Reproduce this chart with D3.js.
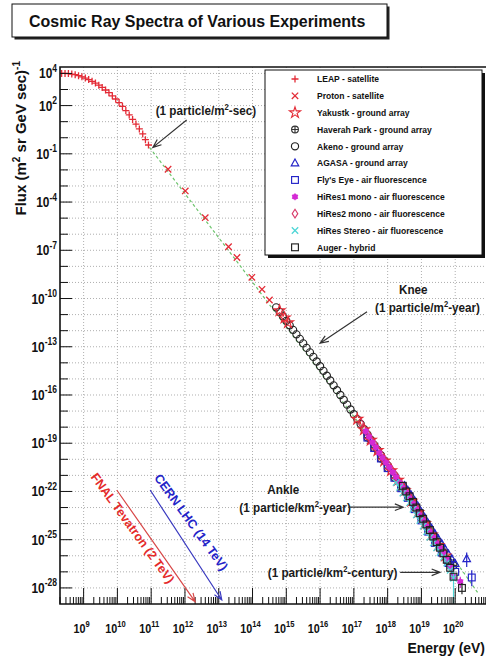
<!DOCTYPE html>
<html>
<head>
<meta charset="utf-8">
<script src="https://cdn.jsdelivr.net/npm/d3@7"></script>
<style>
  body { margin: 0; background: #fff; }
  svg { display: block; font-family: "Liberation Sans", Arial, Helvetica, sans-serif; font-weight: bold; }
</style>
</head>
<body>
<script>
// all points are [log10 E (eV), log10 flux]
const leap = [[8.35,4.00],[8.45,4.00],[8.55,3.99],[8.65,3.96],[8.75,3.92],[8.85,3.86],[8.95,3.79],[9.05,3.71],
  [9.15,3.62],[9.25,3.51],[9.35,3.40],[9.45,3.27],[9.55,3.13],[9.65,2.97],[9.75,2.80],[9.85,2.61],[9.95,2.41],
  [10.05,2.19],[10.15,1.95],[10.25,1.69],[10.35,1.42],[10.45,1.14],[10.55,0.85],[10.65,0.55],[10.75,0.24],
  [10.83,-0.12],[10.92,-0.45]];
const proton = [[11.50,-1.96],[12.01,-3.31],[12.60,-4.97],[13.29,-6.78],[13.54,-7.45],[13.98,-8.68],[14.28,-9.43],[14.50,-10.09]];
const yakutsk = [[14.80,-10.75],[14.95,-11.2],[15.05,-11.5],[17.1,-17.5],[17.3,-18.15],[17.5,-18.8],[17.7,-19.45],
  [17.9,-20.1],[18.1,-20.7],[18.3,-21.3],[18.5,-21.95],[18.7,-22.6],[18.9,-23.3],[19.1,-24.0],[19.3,-24.7],[19.5,-25.35],[19.7,-26.0]];
const akeno = [[14.7,-10.55],[14.8,-10.83],[14.9,-11.11],[15.0,-11.39],[15.1,-11.67],[15.2,-11.95],[15.3,-12.23],
  [15.4,-12.51],[15.5,-12.79],[15.6,-13.07],[15.7,-13.35],[15.8,-13.63],[15.9,-13.92],[16.0,-14.21],[16.1,-14.50],
  [16.2,-14.80],[16.3,-15.10],[16.4,-15.40],[16.5,-15.70],[16.6,-16.00],[16.7,-16.30],[16.8,-16.60],[16.9,-16.90],
  [17.0,-17.20],[17.1,-17.50],[17.2,-17.80],[17.3,-18.12],[17.4,-18.45],[17.5,-18.78],[17.6,-19.10],[17.7,-19.42],
  [17.8,-19.75],[17.9,-20.07],[18.0,-20.38],[18.2,-21.00],[18.4,-21.62],[18.6,-22.25],[18.8,-22.92],[19.0,-23.62]];
const haverah = [[17.4,-18.65],[17.6,-19.3],[17.8,-19.95],[18.0,-20.55],[18.2,-21.15],[18.4,-21.75],[18.6,-22.35],
  [18.8,-23.0],[19.0,-23.65],[19.2,-24.35],[19.4,-25.0],[19.6,-25.65],[19.8,-26.35],[19.95,-26.6]];
const agasa = [[18.5,-21.65],[18.6,-21.95],[18.7,-22.25],[18.8,-22.6],[18.9,-22.95],[19.0,-23.3],[19.1,-23.65],
  [19.2,-24.0],[19.3,-24.3],[19.4,-24.65],[19.5,-24.95],[19.6,-25.25],[19.7,-25.6],[19.8,-25.9],[19.9,-26.2],
  [20.0,-26.5],[20.34,-26.2]];
const flysEye = [[17.4,-18.65],[17.6,-19.3],[17.8,-19.95],[18.0,-20.55],[18.2,-21.15],[18.4,-21.8],[18.6,-22.4],
  [18.8,-23.1],[19.0,-23.8],[19.2,-24.5],[19.4,-25.2],[19.6,-25.8],[19.8,-26.45],[20.0,-27.0],[20.49,-27.35]];
const hires1 = [[17.35,-18.25],[17.45,-18.6],[17.55,-18.95],[17.65,-19.25],[17.75,-19.6],[17.85,-19.9],[17.95,-20.2],
  [18.05,-20.5],[18.15,-20.8],[18.25,-21.1],[18.35,-21.45],[18.45,-21.75],[18.55,-22.05],[18.65,-22.4],[18.75,-22.75],
  [18.85,-23.1],[18.95,-23.45],[19.05,-23.8],[19.15,-24.15],[19.25,-24.5],[19.35,-24.85],[19.45,-25.2],[19.55,-25.5],
  [19.65,-25.85],[19.75,-26.2],[19.85,-26.7],[19.95,-27.3],[20.15,-27.6]];
const hires2 = [[17.2,-17.73],[17.3,-18.08],[17.4,-18.38],[17.5,-18.73],[17.6,-19.03],[17.7,-19.38],[17.8,-19.68],
  [17.9,-19.98],[18.0,-20.28],[18.1,-20.58],[18.2,-20.88],[18.3,-21.23],[18.4,-21.53],[18.5,-21.83],[18.6,-22.18],
  [18.7,-22.48],[18.8,-22.83],[18.9,-23.18],[19.0,-23.53],[19.1,-23.88],[19.2,-24.28],[19.3,-24.63],[19.4,-24.98],[19.5,-25.33]];
const hiresStereo = [[18.25,-21.45],[18.35,-21.75],[18.45,-22.1],[18.55,-22.4],[18.65,-22.7],[18.75,-23.1],
  [18.85,-23.45],[18.95,-23.8],[19.05,-24.15],[19.15,-24.5],[19.25,-24.85],[19.35,-25.2],[19.45,-25.5],
  [19.55,-25.8],[19.65,-26.1],[19.75,-26.45],[19.85,-26.9],[19.95,-27.4]];
const auger = [[18.45,-21.65],[18.55,-22.0],[18.65,-22.3],[18.75,-22.65],[18.85,-23.0],[18.95,-23.35],[19.05,-23.7],
  [19.15,-24.05],[19.25,-24.4],[19.35,-24.8],[19.45,-25.15],[19.55,-25.5],[19.65,-25.85],[19.75,-26.25],
  [19.85,-26.75],[19.95,-27.3],[20.2,-28.0]];

// error bars: [log10 E, low, high]
const haverahErr = [[19.95,-27.0,-26.2]];
const agasaErr = [[20.34,-26.7,-25.8]];
const flysEyeErr = [[20.49,-27.9,-26.9]];
const hires1Err = [[20.15,-28.0,-27.3]];
const hiresStereoErr = [[19.95,-29.0,-26.9]];
const augerErr = [[20.2,-28.4,-27.7]];

// power law guide (green dashed)
const powerLaw = [[10.95,-0.6],[13.54,-7.7],[17.2,-17.9],[20.7,-28.4]];

const legendLabels = ["LEAP - satellite", "Proton - satellite", "Yakustk - ground array",
  "Haverah Park - ground array", "Akeno - ground array", "AGASA - ground array",
  "Fly's Eye - air fluorescence", "HiRes1 mono - air fluorescence", "HiRes2 mono - air fluorescence",
  "HiRes Stereo - air fluorescence", "Auger - hybrid"];

const xTickExps = [9,10,11,12,13,14,15,16,17,18,19,20];
const yLabelExps = [4,2,-1,-4,-7,-10,-13,-16,-19,-22,-25,-28];

const width = 486, height = 658;
const red = "#e32b36", blue = "#2323c8", magenta = "#d42ad4", pink = "#d83a6a", cyan = "#4fd6d6", dark = "#333";

// series table (draw order)
const series = [
  { label: legendLabels[0], data: leap, err: [], mk: "plus", color: red },
  { label: legendLabels[1], data: proton, err: [], mk: "cross", color: red },
  { label: legendLabels[4], data: akeno, err: [], mk: "circle", color: "#222" },
  { label: legendLabels[3], data: haverah, err: haverahErr, mk: "circlecross", color: dark },
  { label: legendLabels[6], data: flysEye, err: flysEyeErr, mk: "square", color: blue },
  { label: legendLabels[5], data: agasa, err: agasaErr, mk: "triangle", color: blue },
  { label: legendLabels[8], data: hires2, err: [], mk: "diamond", color: pink },
  { label: legendLabels[2], data: yakutsk, err: [], mk: "star", color: red },
  { label: legendLabels[7], data: hires1, err: hires1Err, mk: "fstar", color: magenta },
  { label: legendLabels[9], data: hiresStereo, err: hiresStereoErr, mk: "cross", color: cyan },
  { label: legendLabels[10], data: auger, err: augerErr, mk: "square", color: "#222" }
];

const svg = d3.select("body").append("svg")
  .attr("width", width)
  .attr("height", height);

const x = d3.scaleLog().domain([2e8, 1e21]).range([60, 489]);
const y = d3.scaleLog().domain([1e-29, Math.pow(10, 4.4)]).range([604, 67]);
const px = e => x(Math.pow(10, e));
const py = f => y(Math.pow(10, f));

svg.append("defs").append("clipPath").attr("id", "plot")
  .append("rect").attr("x", 60).attr("y", 67).attr("width", 429).attr("height", 537);

// grid
const grid = svg.append("g").attr("stroke", "#9a9a9a").attr("stroke-width", 0.8).attr("stroke-dasharray", "1,2");
d3.range(9, 21).forEach(e => {
  grid.append("line").attr("x1", px(e)).attr("x2", px(e)).attr("y1", 67).attr("y2", 604);
});
d3.range(-28, 5).forEach(f => {
  grid.append("line").attr("x1", 60).attr("x2", 489).attr("y1", py(f)).attr("y2", py(f));
});

const plot = svg.append("g").attr("clip-path", "url(#plot)");

// green power-law line
plot.append("path")
  .datum(powerLaw)
  .attr("d", d3.line().x(d => px(d[0])).y(d => py(d[1])))
  .attr("fill", "none")
  .attr("stroke", "#6cc46c")
  .attr("stroke-width", 1.2)
  .attr("stroke-dasharray", "3,2.5");

function marker(g, type, color) {
  const st = s => s.attr("fill", "none").attr("stroke", color).attr("stroke-width", 1.15);
  if (type == "plus") st(g.append("path").attr("d", "M-3.5,0H3.5M0,-3.5V3.5")).attr("stroke-width", 1.3);
  else if (type == "cross") st(g.append("path").attr("d", "M-3.2,-3.2L3.2,3.2M-3.2,3.2L3.2,-3.2")).attr("stroke-width", 1.3);
  else if (type == "star") st(g.append("path").attr("d", d3.symbol(d3.symbolStar, 38)()));
  else if (type == "circle") st(g.append("circle").attr("r", 3.6));
  else if (type == "circlecross") {
    st(g.append("circle").attr("r", 3.4));
    st(g.append("path").attr("d", "M-3.4,0H3.4M0,-3.4V3.4"));
  }
  else if (type == "triangle") st(g.append("path").attr("d", "M0,-4.2L3.8,2.7L-3.8,2.7Z"));
  else if (type == "square") st(g.append("rect").attr("x", -3.4).attr("y", -3.4).attr("width", 6.8).attr("height", 6.8));
  else if (type == "diamond") st(g.append("path").attr("d", "M0,-4.4L2.8,0L0,4.4L-2.8,0Z"));
  else if (type == "fstar") {
    g.append("circle").attr("r", 2.8).attr("fill", color);
    st(g.append("path").attr("d", d3.symbol(d3.symbolAsterisk, 34)()));
  }
}

series.forEach(s => {
  const g = plot.append("g");
  g.selectAll("line.err").data(s.err).enter().append("line")
    .attr("x1", d => px(d[0])).attr("x2", d => px(d[0]))
    .attr("y1", d => py(d[1])).attr("y2", d => py(d[2]))
    .attr("stroke", s.color).attr("stroke-width", 1.2);
  g.selectAll("g.pt").data(s.data).enter().append("g")
    .attr("transform", d => `translate(${px(d[0])},${py(d[1])})`)
    .each(function () { marker(d3.select(this), s.mk, s.color); });
});

// frame
svg.append("path")
  .attr("d", "M60,67H489V604H60Z")
  .attr("fill", "none").attr("stroke", "#111").attr("stroke-width", 1.6);

// ticks
const ticks = svg.append("g").attr("stroke", "#111").attr("stroke-width", 1);
d3.range(8, 21).forEach(e => {
  d3.range(1, 10).forEach(k => {
    const v = k * Math.pow(10, e);
    if (v < 2e8 || v > 1e21) return;
    const len = k == 1 ? 16 : 7;
    ticks.append("line").attr("x1", x(v)).attr("x2", x(v)).attr("y1", 604).attr("y2", 604 - len);
  });
});
d3.range(-28, 5).forEach(f => {
  const len = yLabelExps.includes(f) ? 12 : 8;
  ticks.append("line").attr("x1", 60).attr("x2", 60 + len).attr("y1", py(f)).attr("y2", py(f));
});

function pow10(t, exp, supSize, dy) {
  t.append("tspan").text("10");
  t.append("tspan").attr("dy", -dy).attr("font-size", supSize).text(exp);
}

xTickExps.forEach(e => {
  const t = svg.append("text")
    .attr("transform", `translate(${px(e) - 2},633) scale(0.8,1)`)
    .attr("text-anchor", "middle").attr("font-size", 13.5).attr("fill", "#111");
  pow10(t, e, 9.5, 6);
});
yLabelExps.forEach(f => {
  const t = svg.append("text")
    .attr("transform", `translate(57,${py(f) + 5}) scale(0.85,1)`)
    .attr("text-anchor", "end").attr("font-size", 14).attr("fill", "#111");
  pow10(t, f, 10, 6.5);
});

// axis titles
svg.append("text")
  .attr("transform", "translate(485,653) scale(0.9,1)")
  .attr("text-anchor", "end").attr("font-size", 15.5).attr("fill", "#111")
  .text("Energy (eV)");

const yt = svg.append("text")
  .attr("transform", "translate(26,61) rotate(-90)")
  .attr("text-anchor", "end").attr("font-size", 15).attr("fill", "#111");
yt.append("tspan").text("Flux (m");
yt.append("tspan").attr("dy", -6).attr("font-size", 10).text("2");
yt.append("tspan").attr("dy", 6).text(" sr GeV sec)");
yt.append("tspan").attr("dy", -6).attr("font-size", 10).text("-1");

// annotations
const ann = svg.append("g").attr("fill", "#1a1a1a");

function arrow(p1, p2, color) {
  const a = Math.atan2(p2[1] - p1[1], p2[0] - p1[0]), L = 9, s = 0.38;
  const h1 = [p2[0] - L * Math.cos(a - s), p2[1] - L * Math.sin(a - s)];
  const h2 = [p2[0] - L * Math.cos(a + s), p2[1] - L * Math.sin(a + s)];
  svg.append("path")
    .attr("d", `M${p1}L${p2}M${h1}L${p2}L${h2}`)
    .attr("fill", "none").attr("stroke", color).attr("stroke-width", 1.2);
}

function note(e, f, parts, size) {
  const t = ann.append("text")
    .attr("transform", `translate(${px(e)},${py(f) + 4.5}) scale(0.9,1)`)
    .attr("text-anchor", "middle").attr("font-size", size);
  parts.forEach(p => {
    if (p[1] == "sup") t.append("tspan").attr("dy", -5).attr("font-size", size * 0.65).text(p[0]);
    else t.append("tspan").attr("dy", p[1] == "down" ? 5 : 0).text(p[0]);
  });
}

note(12.62, 1.72, [["(1 particle/m"], ["2", "sup"], ["-sec)", "down"]], 13);
arrow([px(12.05), py(1.10)], [px(11.05), py(-0.6)], "#333");

note(18.76, -9.43, [["Knee"]], 13);
note(19.18, -10.55, [["(1 particle/m"], ["2", "sup"], ["-year)", "down"]], 13);
arrow([px(17.39), py(-10.82)], [px(16.0), py(-12.78)], "#333");

note(14.91, -21.86, [["Ankle"]], 13);
note(15.26, -22.98, [["(1 particle/km"], ["2", "sup"], ["-year)", "down"]], 13);
arrow([px(16.84), py(-22.98)], [px(18.46), py(-22.98)], "#333");

note(16.37, -27.05, [["(1 particle/km"], ["2", "sup"], ["-century)", "down"]], 13);
arrow([px(18.37), py(-27.03)], [px(19.55), py(-27.03)], "#333");

// accelerator arrows
arrow([px(9.98), py(-21.91)], [px(12.30), py(-28.85)], "#d84848");
arrow([px(10.97), py(-21.91)], [px(13.09), py(-28.75)], "#3a3ac0");
svg.append("text")
  .attr("transform", `translate(${px(10.35)},${py(-24.19) + 4}) rotate(54)`)
  .attr("text-anchor", "middle").attr("font-size", 12.5).attr("fill", "#e42a2a")
  .text("FNAL Tevatron (2 TeV)");
svg.append("text")
  .attr("transform", `translate(${px(12.08)},${py(-23.82) + 4}) rotate(54)`)
  .attr("text-anchor", "middle").attr("font-size", 12.5).attr("fill", "#2424c8")
  .text("CERN LHC (14 TeV)");

// legend
const lg = svg.append("g");
lg.append("rect").attr("x", 268).attr("y", 73).attr("width", 217).attr("height", 185).attr("fill", "#111");
lg.append("rect").attr("x", 265).attr("y", 70).attr("width", 217).attr("height", 185)
  .attr("fill", "#fff").attr("stroke", "#111").attr("stroke-width", 1);
const ly = d3.scalePoint().domain(legendLabels).range([79, 247.3]);
legendLabels.forEach(lab => {
  const s = series.find(d => d.label == lab);
  const g = lg.append("g").attr("transform", `translate(295,${ly(lab)})`);
  marker(g, s.mk, s.color);
  lg.append("text")
    .attr("transform", `translate(317,${ly(lab) + 3.2}) scale(0.95,1)`)
    .attr("font-size", 9).attr("fill", "#111")
    .text(lab);
});

// title box
svg.append("rect").attr("x", 14.5).attr("y", 6.5).attr("width", 375).attr("height", 33).attr("fill", "#222");
svg.append("rect").attr("x", 12).attr("y", 4).attr("width", 375).attr("height", 33)
  .attr("fill", "#fff").attr("stroke", "#111").attr("stroke-width", 1);
svg.append("text")
  .attr("transform", "translate(29,27) scale(0.94,1)")
  .attr("font-size", 17).attr("fill", "#111")
  .text("Cosmic Ray Spectra of Various Experiments");
</script>
</body>
</html>
